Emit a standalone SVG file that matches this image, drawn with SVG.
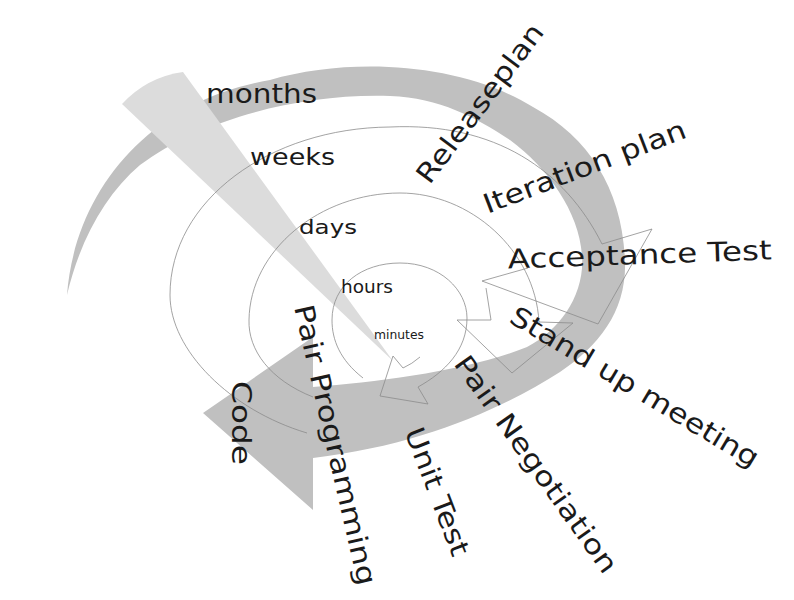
<svg xmlns="http://www.w3.org/2000/svg" width="794" height="600" viewBox="0 0 794 600">
<style>
.band{fill:#c0c0c0;stroke:none}
.wedge{fill:#dcdcdc;stroke:none}
.thin{fill:none;stroke:#8c8c8c;stroke-width:0.8;stroke-linejoin:miter}
.lbl{font-family:"DejaVu Sans","Liberation Sans",sans-serif;fill:#1a1a1a}
.big{font-size:27px}
</style>
<rect width="794" height="600" fill="#ffffff"/>
<g id="release-loop">
<path class="band" d="M67,295 C75,190 150,100 270,80 C350,57 460,62 533,107 C590,138 622,190 625,260 C627,310 600,345 560,372 C500,410 420,445 313,458 L313,510 L203,413 L313,337 L313,387 C380,382 470,370 527,347 C560,330 585,295 582,255 C579,212 548,168 510,140 C475,117 440,98 390,96 C300,93 200,120 140,165 C105,195 80,240 67,295 Z"/>
</g>
<g id="time-wedge">
<path class="wedge" d="M122,104 Q147,77 183,72 L393,361 Z"/>
</g>
<g id="connectors">
<path id="weeks-loop" class="thin" d="M307,433 C230,410 170,350 170,295 C170,200 270,128 390,127 C495,122 565,170 602,244 L652,229 L598,324 L482,281 L528,268"/>
<path id="days-loop" class="thin" d="M313,397 C270,380 248,350 249,320 C250,250 320,193 400,193 C470,193 535,250 539,322 L573,323 L512,373 L457,320 L491,320 L486,288"/>
<path id="hours-loop" class="thin" d="M363,378 C340,360 332,340 332,320 C332,285 362,263 400,263 C440,263 467,290 467,318 C467,350 445,372 418,387 L428,404 L380,396 L393,356 L403,368 Q412,364 420,357"/>
</g>
<g id="scale-labels">
<text class="lbl" x="206" y="103" font-size="26" textLength="111" lengthAdjust="spacingAndGlyphs">months</text>
<text class="lbl" x="250" y="165" font-size="23" textLength="85" lengthAdjust="spacingAndGlyphs">weeks</text>
<text class="lbl" x="299" y="234" font-size="20" textLength="58" lengthAdjust="spacingAndGlyphs">days</text>
<text class="lbl" x="341" y="293" font-size="17" textLength="52" lengthAdjust="spacingAndGlyphs">hours</text>
<text class="lbl" x="374" y="339" font-size="13" textLength="50" lengthAdjust="spacingAndGlyphs">minutes</text>
</g>
<g id="practice-releaseplan"><text class="lbl big" transform="translate(481,104) rotate(-53)" x="0" y="8" text-anchor="middle" textLength="192" lengthAdjust="spacingAndGlyphs">Releaseplan</text></g>
<g id="practice-iteration-plan"><text class="lbl big" transform="translate(585,168) rotate(-21)" x="0" y="8" text-anchor="middle" textLength="215" lengthAdjust="spacingAndGlyphs">Iteration plan</text></g>
<g id="practice-acceptance-test"><text class="lbl big" transform="translate(640,264) rotate(-2)" x="0" y="0" text-anchor="middle" textLength="264" lengthAdjust="spacingAndGlyphs">Acceptance Test</text></g>
<g id="practice-stand-up"><text class="lbl big" transform="translate(634,388) rotate(31)" x="0" y="8" text-anchor="middle" textLength="285" lengthAdjust="spacingAndGlyphs">Stand up meeting</text></g>
<g id="practice-pair-negotiation"><text class="lbl big" transform="translate(535,465) rotate(54.5)" x="0" y="8" text-anchor="middle" textLength="260" lengthAdjust="spacingAndGlyphs">Pair Negotiation</text></g>
<g id="practice-unit-test"><text class="lbl big" transform="translate(436,492) rotate(69)" x="0" y="8" text-anchor="middle" textLength="135" lengthAdjust="spacingAndGlyphs">Unit Test</text></g>
<g id="practice-pair-programming"><text class="lbl big" transform="translate(334,445) rotate(77)" x="0" y="8" text-anchor="middle" textLength="287" lengthAdjust="spacingAndGlyphs">Pair Programming</text></g>
<g id="practice-code"><text class="lbl big" transform="translate(240,423) rotate(90)" x="0" y="8" text-anchor="middle" textLength="84" lengthAdjust="spacingAndGlyphs">Code</text></g>
</svg>
